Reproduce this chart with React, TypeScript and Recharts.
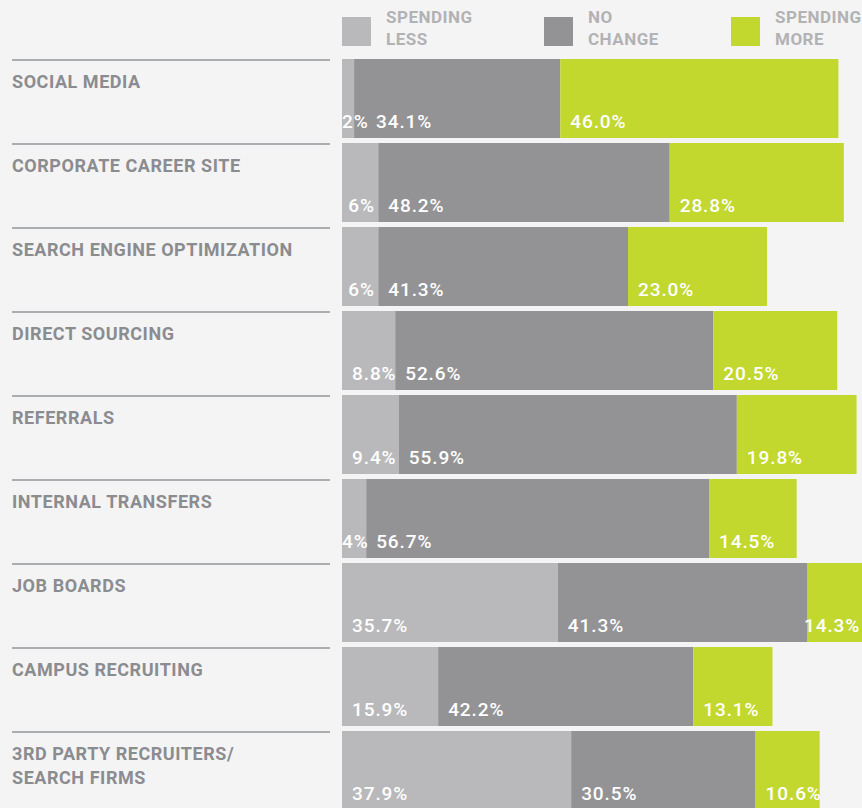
import React from 'react';
import { BarChart, Bar, XAxis, YAxis, Legend, LabelList } from 'recharts';

const categories = [
  'SOCIAL MEDIA',
  'CORPORATE CAREER SITE',
  'SEARCH ENGINE OPTIMIZATION',
  'DIRECT SOURCING',
  'REFERRALS',
  'INTERNAL TRANSFERS',
  'JOB BOARDS',
  'CAMPUS RECRUITING',
  '3RD PARTY RECRUITERS/ SEARCH FIRMS',
];
const seriesNames = ['SPENDING LESS', 'NO CHANGE', 'SPENDING MORE'];
const spendingLess = [2, 6, 6, 8.8, 9.4, 4, 35.7, 15.9, 37.9];
const noChange = [34.1, 48.2, 41.3, 52.6, 55.9, 56.7, 41.3, 42.2, 30.5];
const spendingMore = [46.0, 28.8, 23.0, 20.5, 19.8, 14.5, 14.3, 13.1, 10.6];

const FONT = 'Roboto, "Liberation Sans", sans-serif';
const BG = '#f4f4f4';
const W = 862;
const AXIS_W = 342;

const chartData = categories.map((category, i) => ({
  category,
  less: spendingLess[i],
  same: noChange[i],
  more: spendingMore[i],
}));

// small values keep their whole number ("2%"), the rest show one decimal
const fmtLess = (v: number) => (Number.isInteger(v) ? `${v}%` : `${v.toFixed(1)}%`);
const fmtFixed = (v: number) => `${v.toFixed(1)}%`;

const makeLabel = (fmt: (v: number) => string, kind: 'first' | 'mid' | 'last') => (props: any) => {
  const { x, y, width, height, value } = props;
  if (value == null) return null;
  const x0 = Number(x);
  let pad = 10;
  if (kind === 'first' && width < 50) pad = Math.max(0, width - 30);
  // leave room when the previous (narrow) label spills over
  if (kind === 'mid') pad = Math.max(10, 34 - (x0 - AXIS_W));
  let tx = x0 + pad;
  if (kind === 'last') tx = Math.min(tx, W - 58);
  return (
    <text
      x={tx}
      y={Number(y) + Number(height) - 10}
      fill="#ffffff"
      fontFamily={FONT}
      fontSize={19}
      fontWeight={500}
      letterSpacing={0.9}
    >
      {fmt(Number(value))}
    </text>
  );
};

const CategoryTick = (props: any) => {
  const { y, payload } = props;
  const lines = String(payload.value).split(/(?<=\/)\s/);
  const top = y - 38;
  return (
    <g>
      <line x1={12} x2={330} y1={top} y2={top} stroke="#abadb0" strokeWidth={2} />
      <text fill="#8b8c90" fontFamily={FONT} fontSize={18} fontWeight={700} letterSpacing={0.55}>
        {lines.map((ln, i) => (
          <tspan key={i} x={12} y={top + 28 + i * 24}>
            {ln}
          </tspan>
        ))}
      </text>
    </g>
  );
};

const itemWidths = [202, 187, 131];

const LegendContent = (props: any) => {
  const payload = [...(props.payload || [])].sort(
    (a: any, b: any) => seriesNames.indexOf(a.value) - seriesNames.indexOf(b.value)
  );
  return (
    <div style={{ display: 'flex', fontFamily: FONT }}>
      {payload.map((entry: any, i: number) => (
        <div key={entry.value} style={{ display: 'flex', width: itemWidths[i] }}>
          <div style={{ width: 29, height: 29, background: entry.color, marginTop: 17 }} />
          <div
            style={{
              marginLeft: 15,
              color: '#b2b2b4',
              fontSize: 17,
              fontWeight: 700,
              lineHeight: '22px',
              letterSpacing: 0.5,
              paddingTop: 6,
            }}
          >
            {String(entry.value)
              .split(' ')
              .map((w: string) => (
                <div key={w}>{w}</div>
              ))}
          </div>
        </div>
      ))}
    </div>
  );
};

export default function App() {
  return (
    <div style={{ width: W, height: 808, overflow: 'hidden', background: BG }}>
      <style>{`body{margin:0;background:${BG};}`}</style>
      <BarChart
        width={W}
        height={812}
        data={chartData}
        layout="vertical"
        margin={{ top: 56, right: 0, bottom: 0, left: 0 }}
      >
        <XAxis type="number" hide domain={[0, 86]} allowDataOverflow />
        <YAxis
          type="category"
          dataKey="category"
          width={AXIS_W}
          axisLine={false}
          tickLine={false}
          tick={<CategoryTick />}
          interval={0}
        />
        <Legend
          verticalAlign="middle"
          layout="horizontal"
          content={<LegendContent />}
          wrapperStyle={{ top: 0, left: AXIS_W, width: W - AXIS_W, height: 56 }}
        />
        <Bar dataKey="less" name={seriesNames[0]} stackId="a" fill="#b9b9bb" barSize={79} isAnimationActive={false}>
          <LabelList dataKey="less" content={makeLabel(fmtLess, 'first')} />
        </Bar>
        <Bar dataKey="same" name={seriesNames[1]} stackId="a" fill="#939396" barSize={79} isAnimationActive={false}>
          <LabelList dataKey="same" content={makeLabel(fmtFixed, 'mid')} />
        </Bar>
        <Bar dataKey="more" name={seriesNames[2]} stackId="a" fill="#c2d82e" barSize={79} isAnimationActive={false}>
          <LabelList dataKey="more" content={makeLabel(fmtFixed, 'last')} />
        </Bar>
      </BarChart>
    </div>
  );
}
